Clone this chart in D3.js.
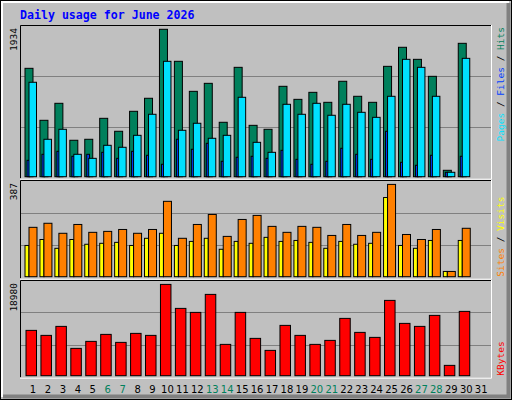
<!DOCTYPE html>
<html><head><meta charset="utf-8">
<script src="https://cdn.jsdelivr.net/npm/d3@7"></script>
<style>body{margin:0;background:#fff}</style>
</head><body>
<svg id="chart" width="512" height="400"></svg>
<script>
// daily values, day 1..30 (day 31 empty)
const days = d3.range(1, 32);
const weekends = [6, 7, 13, 14, 20, 21, 27, 28];
const hits   = [1422,740,963,478,491,766,596,858,1029,1934,1514,1120,1225,714,1435,674,622,1186,1015,1107,976,1252,1055,976,1448,1698,1540,1317,84,1750];
const pages  = [1239,491,622,294,241,412,386,543,819,1514,609,701,504,543,1042,451,320,950,819,963,806,950,845,779,1055,1540,1435,1055,58,1553];
const files  = [215,294,333,268,294,320,241,333,281,163,491,360,438,202,255,268,241,346,228,163,202,373,294,228,596,189,150,281,58,268];
const sites  = [207,224,182,219,186,190,198,182,198,316,161,219,261,169,240,257,211,186,211,207,173,219,173,186,387,177,156,198,22,203];
const visits = [131,156,119,156,136,140,144,131,161,182,131,148,161,115,148,140,165,148,152,144,119,148,136,140,332,131,119,152,22,152];
const kbytes = [9421,8382,10252,5680,7135,8589,6927,8797,8382,18980,13992,13161,16902,6511,13161,7758,5264,10460,8382,6511,7343,11914,9005,7966,15655,10875,10252,12538,2147,13369];

const svg = d3.select("#chart");
const mono = "'DejaVu Sans Mono', monospace";

// frame / bevel
svg.append("rect").attr("x",0).attr("y",0).attr("width",512).attr("height",400).attr("fill","#c0c0c0");
svg.append("rect").attr("x",0.5).attr("y",0.5).attr("width",511).attr("height",399).attr("fill","none").attr("stroke","#000");
svg.append("path").attr("d","M2,397V2H509").attr("fill","none").attr("stroke","#fff").attr("stroke-width",2);
svg.append("path").attr("d","M3,396.5H508.5V3").attr("fill","none").attr("stroke","#808080").attr("stroke-width",4);

svg.append("text").attr("x",20).attr("y",19).attr("fill","#0000ff")
  .style("font-family",mono).style("font-weight","bold").style("font-size","11.6px")
  .text("Daily usage for June 2026");

const x = d3.scaleBand().domain(days).range([25, 25 + 31 * 14.94]);
const X0 = 20, X1 = 491;

const panels = [
  {top:25, base:176.7, hMax:147.4, max:d3.max(hits), label:"1934",
   series:[{v:hits,c:"#00805c",dx:0,w:8},{v:files,c:"#0040ff",dx:2,w:2.7},{v:pages,c:"#00e0ff",dx:4,w:7.5}],
   legend:[["Pages","#00e0ff"],[" / ","#000"],["Files","#0040ff"],[" / ","#000"],["Hits","#00805c"]], legendTop:true},
  {top:180, base:276.7, hMax:92.3, max:d3.max(sites), label:"387",
   series:[{v:visits,c:"#ffff00",dx:0,w:4},{v:sites,c:"#ff8000",dx:4,w:8}],
   legend:[["Sites","#ff8000"],[" / ","#000"],["Visits","#ffff00"]]},
  {top:280, base:375.7, hMax:91.3, max:d3.max(kbytes), label:"18980",
   series:[{v:kbytes,c:"#ff0000",dx:1,w:10.5}],
   legend:[["KBytes","#ff0000"]]}
];

panels.forEach(p => {
  const y = d3.scaleLinear().domain([0, p.max]).range([p.base, p.base - p.hMax]);
  const bottom = p.base + 1.5;
  const hh = bottom - p.top;
  [1/3, 2/3].forEach(f => svg.append("line").attr("x1",X0).attr("x2",X1)
    .attr("y1",Math.round(bottom - hh*f)+0.5).attr("y2",Math.round(bottom - hh*f)+0.5)
    .attr("stroke","#808080"));
  p.series.forEach(s => {
    svg.append("g").selectAll("rect").data(s.v).join("rect")
      .attr("x",(d,i)=>x(days[i]) + s.dx).attr("width",s.w)
      .attr("y",d=>y(d)).attr("height",d=>p.base - y(d))
      .attr("fill",s.c).attr("stroke","#000").attr("stroke-width",1);
  });
  // sunken bevel
  svg.append("path").attr("d",`M${X0+0.5},${bottom}V${p.top+0.5}H${X1}`).attr("fill","none").attr("stroke","#000");
  svg.append("path").attr("d",`M${X0},${bottom+1}H${X1+0.5}V${p.top}`).attr("fill","none").attr("stroke","#fff");
  svg.append("text").attr("transform",`translate(17,${p.top+3}) rotate(-90)`)
    .attr("text-anchor","end").style("font-family",mono).style("font-size","9.5px").text(p.label);
  const t = svg.append("text").style("font-family",mono).style("font-size","9.5px");
  if (p.legendTop) t.attr("transform",`translate(504,${p.top+2}) rotate(-90)`).attr("text-anchor","end");
  else t.attr("transform",`translate(504,${p.base}) rotate(-90)`).attr("text-anchor","start");
  p.legend.forEach(l => t.append("tspan").attr("fill",l[1]).text(l[0]));
});

svg.append("g").selectAll("text").data(days).join("text")
  .attr("x",d=>x(d)+8).attr("y",393).attr("text-anchor","middle")
  .attr("fill",d=>weekends.includes(d)?"#00805c":"#000")
  .style("font-family","'DejaVu Sans', sans-serif").style("font-size","10px")
  .text(d=>d);
</script>
</body></html>
